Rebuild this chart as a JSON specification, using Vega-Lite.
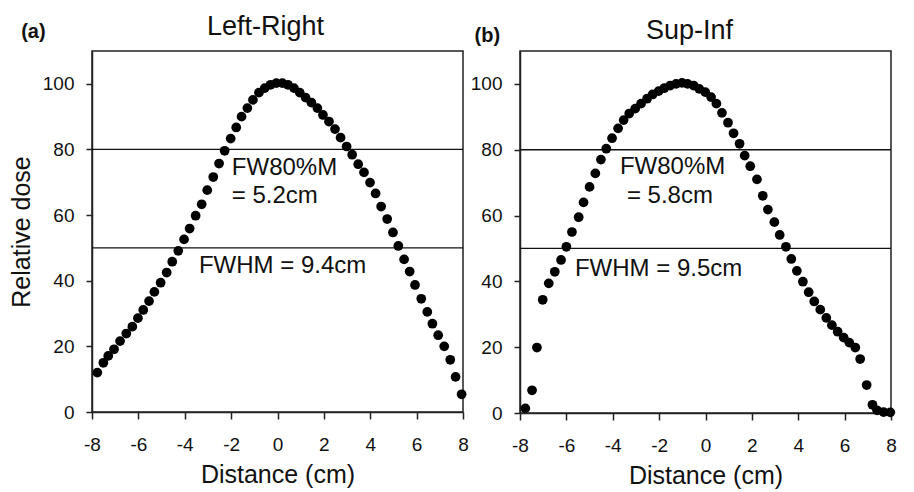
{
  "$schema": "https://vega.github.io/schema/vega-lite/v6.json",
  "background": "white",
  "padding": {"left": 8, "top": 12, "right": 5, "bottom": 2},
  "spacing": -1,
  "config": {
    "font": "Liberation Sans",
    "view": {"stroke": "#222", "strokeWidth": 1.5},
    "axis": {"grid": false, "domainColor": "#222", "domainWidth": 1.5, "tickColor": "#222", "tickWidth": 1.5, "labelColor": "#111", "titleColor": "#111", "labelFontSize": 19, "titleFontSize": 25, "titleFontWeight": "normal", "labelFont": "Liberation Sans", "titleFont": "Liberation Sans"},
    "title": {"font": "Liberation Sans", "fontSize": 27, "fontWeight": "normal", "color": "#111"}
  },
  "datasets": {
    "lr": [
      {"d": -7.77, "v": 12.0}, {"d": -7.51, "v": 15.0}, {"d": -7.30, "v": 17.1}, {"d": -7.05, "v": 19.1},
      {"d": -6.79, "v": 21.6}, {"d": -6.52, "v": 23.9}, {"d": -6.26, "v": 26.0}, {"d": -6.02, "v": 28.6},
      {"d": -5.79, "v": 31.1}, {"d": -5.54, "v": 33.8}, {"d": -5.31, "v": 36.6}, {"d": -5.04, "v": 39.4},
      {"d": -4.78, "v": 42.5}, {"d": -4.54, "v": 45.8}, {"d": -4.28, "v": 49.1}, {"d": -4.03, "v": 52.6},
      {"d": -3.79, "v": 55.9}, {"d": -3.53, "v": 59.8}, {"d": -3.27, "v": 63.3}, {"d": -3.03, "v": 67.6},
      {"d": -2.77, "v": 71.6}, {"d": -2.52, "v": 75.7}, {"d": -2.28, "v": 79.6}, {"d": -2.02, "v": 83.3},
      {"d": -1.78, "v": 86.7}, {"d": -1.55, "v": 90.0}, {"d": -1.30, "v": 92.6}, {"d": -1.06, "v": 95.1},
      {"d": -0.80, "v": 97.3}, {"d": -0.55, "v": 98.7}, {"d": -0.30, "v": 99.7}, {"d": -0.05, "v": 100.2},
      {"d": 0.21, "v": 100.2}, {"d": 0.45, "v": 99.7}, {"d": 0.71, "v": 98.7}, {"d": 0.96, "v": 97.3},
      {"d": 1.21, "v": 95.8}, {"d": 1.46, "v": 94.3}, {"d": 1.72, "v": 92.6}, {"d": 1.96, "v": 90.5},
      {"d": 2.22, "v": 88.5}, {"d": 2.48, "v": 86.2}, {"d": 2.72, "v": 83.6}, {"d": 2.98, "v": 80.9},
      {"d": 3.22, "v": 78.4}, {"d": 3.48, "v": 75.5}, {"d": 3.73, "v": 73.0}, {"d": 3.99, "v": 69.9},
      {"d": 4.23, "v": 66.6}, {"d": 4.47, "v": 62.6}, {"d": 4.73, "v": 58.8}, {"d": 4.98, "v": 54.7},
      {"d": 5.21, "v": 50.6}, {"d": 5.46, "v": 46.5}, {"d": 5.70, "v": 42.8}, {"d": 5.93, "v": 38.7},
      {"d": 6.20, "v": 34.5}, {"d": 6.46, "v": 30.5}, {"d": 6.68, "v": 26.9}, {"d": 6.93, "v": 23.4},
      {"d": 7.19, "v": 20.0}, {"d": 7.45, "v": 15.9}, {"d": 7.68, "v": 10.7}, {"d": 7.94, "v": 5.4}
    ],
    "si": [
      {"d": -7.77, "v": 1.4}, {"d": -7.48, "v": 6.9}, {"d": -7.27, "v": 19.9}, {"d": -7.02, "v": 34.4},
      {"d": -6.76, "v": 39.4}, {"d": -6.50, "v": 42.9}, {"d": -6.23, "v": 46.5}, {"d": -6.00, "v": 50.5},
      {"d": -5.76, "v": 55.0}, {"d": -5.47, "v": 59.5}, {"d": -5.26, "v": 64.0}, {"d": -5.00, "v": 68.7},
      {"d": -4.75, "v": 72.8}, {"d": -4.51, "v": 77.0}, {"d": -4.28, "v": 80.3}, {"d": -4.03, "v": 83.5},
      {"d": -3.77, "v": 86.5}, {"d": -3.53, "v": 89.0}, {"d": -3.29, "v": 91.0}, {"d": -3.03, "v": 92.5},
      {"d": -2.78, "v": 94.0}, {"d": -2.52, "v": 95.5}, {"d": -2.28, "v": 96.8}, {"d": -2.02, "v": 97.8},
      {"d": -1.78, "v": 98.7}, {"d": -1.52, "v": 99.5}, {"d": -1.27, "v": 100.0}, {"d": -1.01, "v": 100.3},
      {"d": -0.77, "v": 100.0}, {"d": -0.51, "v": 99.5}, {"d": -0.27, "v": 98.5}, {"d": -0.01, "v": 97.5},
      {"d": 0.24, "v": 96.0}, {"d": 0.47, "v": 94.0}, {"d": 0.71, "v": 91.2}, {"d": 0.97, "v": 88.2},
      {"d": 1.21, "v": 85.0}, {"d": 1.47, "v": 81.8}, {"d": 1.69, "v": 78.2}, {"d": 1.93, "v": 75.0},
      {"d": 2.22, "v": 71.0}, {"d": 2.47, "v": 66.0}, {"d": 2.69, "v": 61.8}, {"d": 2.97, "v": 58.0},
      {"d": 3.20, "v": 54.1}, {"d": 3.47, "v": 50.5}, {"d": 3.70, "v": 46.8}, {"d": 3.94, "v": 43.2},
      {"d": 4.20, "v": 39.9}, {"d": 4.45, "v": 36.7}, {"d": 4.69, "v": 33.9}, {"d": 4.95, "v": 31.4},
      {"d": 5.21, "v": 28.9}, {"d": 5.45, "v": 26.7}, {"d": 5.70, "v": 24.7}, {"d": 5.96, "v": 22.9},
      {"d": 6.20, "v": 21.4}, {"d": 6.46, "v": 19.9}, {"d": 6.67, "v": 16.4}, {"d": 6.95, "v": 8.5},
      {"d": 7.20, "v": 2.5}, {"d": 7.40, "v": 0.8}, {"d": 7.68, "v": 0.3}, {"d": 7.97, "v": 0.2}
    ],
    "levels": [{"level": 80}, {"level": 50}],
    "notesA": [
      {"x": -1.97, "y": 74.4, "t": "FW80%M"},
      {"x": -1.97, "y": 65.9, "t": "= 5.2cm"},
      {"x": -3.39, "y": 44.5, "t": "FWHM = 9.4cm"}
    ],
    "notesB": [
      {"x": -3.69, "y": 74.8, "t": "FW80%M"},
      {"x": -3.39, "y": 66.0, "t": "= 5.8cm"},
      {"x": -5.63, "y": 43.8, "t": "FWHM = 9.5cm"}
    ],
    "tagA": [{"x": -10.0, "y": 115.8, "t": "(a)"}],
    "tagB": [{"x": -8.86, "y": 114.7, "t": "(b)"}]
  },
  "hconcat": [
    {
      "width": 371,
      "height": 361,
      "title": {"text": "Left-Right", "offset": -19, "dx": -12},
      "layer": [
        {
          "data": {"name": "levels"},
          "mark": {"type": "rule", "color": "#111", "strokeWidth": 1.3},
          "encoding": {"y": {"field": "level", "type": "quantitative", "scale": {"domain": [0, 110], "nice": false}}}
        },
        {
          "data": {"name": "lr"},
          "mark": {"type": "circle", "size": 95, "color": "black", "opacity": 1},
          "encoding": {
            "x": {"field": "d", "type": "quantitative", "scale": {"domain": [-8, 8], "nice": false},
              "axis": {"title": "Distance (cm)", "values": [-8, -6, -4, -2, 0, 2, 4, 6, 8], "labelExpr": "'' + datum.value", "tickSize": 7, "labelFlush": false, "labelPadding": 16, "titlePadding": 8}},
            "y": {"field": "v", "type": "quantitative", "scale": {"domain": [0, 110], "nice": false},
              "axis": {"title": "Relative dose", "values": [0, 20, 40, 60, 80, 100], "tickSize": 6, "labelPadding": 12, "titlePadding": 8}}
          }
        },
        {
          "data": {"name": "notesA"},
          "mark": {"type": "text", "align": "left", "baseline": "middle", "fontSize": 24, "color": "#111", "font": "Liberation Sans"},
          "encoding": {
            "x": {"field": "x", "type": "quantitative"},
            "y": {"field": "y", "type": "quantitative"},
            "text": {"field": "t"}
          }
        },
        {
          "data": {"name": "tagA"},
          "mark": {"type": "text", "align": "right", "baseline": "middle", "fontSize": 20, "fontWeight": "bold", "color": "#111", "font": "Liberation Sans"},
          "encoding": {
            "x": {"field": "x", "type": "quantitative"},
            "y": {"field": "y", "type": "quantitative"},
            "text": {"field": "t"}
          }
        }
      ]
    },
    {
      "width": 371,
      "height": 362,
      "title": {"text": "Sup-Inf", "offset": -19, "dx": -16},
      "layer": [
        {
          "data": {"name": "levels"},
          "mark": {"type": "rule", "color": "#111", "strokeWidth": 1.3},
          "encoding": {"y": {"field": "level", "type": "quantitative", "scale": {"domain": [0, 110], "nice": false}}}
        },
        {
          "data": {"name": "si"},
          "mark": {"type": "circle", "size": 95, "color": "black", "opacity": 1},
          "encoding": {
            "x": {"field": "d", "type": "quantitative", "scale": {"domain": [-8, 8], "nice": false},
              "axis": {"title": "Distance (cm)", "values": [-8, -6, -4, -2, 0, 2, 4, 6, 8], "labelExpr": "'' + datum.value", "tickSize": 7, "labelFlush": false, "labelPadding": 16, "titlePadding": 8}},
            "y": {"field": "v", "type": "quantitative", "scale": {"domain": [0, 110], "nice": false},
              "axis": {"title": null, "values": [0, 20, 40, 60, 80, 100], "tickSize": 6, "labelPadding": 12}}
          }
        },
        {
          "data": {"name": "notesB"},
          "mark": {"type": "text", "align": "left", "baseline": "middle", "fontSize": 24, "color": "#111", "font": "Liberation Sans"},
          "encoding": {
            "x": {"field": "x", "type": "quantitative"},
            "y": {"field": "y", "type": "quantitative"},
            "text": {"field": "t"}
          }
        },
        {
          "data": {"name": "tagB"},
          "mark": {"type": "text", "align": "right", "baseline": "middle", "fontSize": 20, "fontWeight": "bold", "color": "#111", "font": "Liberation Sans"},
          "encoding": {
            "x": {"field": "x", "type": "quantitative"},
            "y": {"field": "y", "type": "quantitative"},
            "text": {"field": "t"}
          }
        }
      ]
    }
  ]
}
